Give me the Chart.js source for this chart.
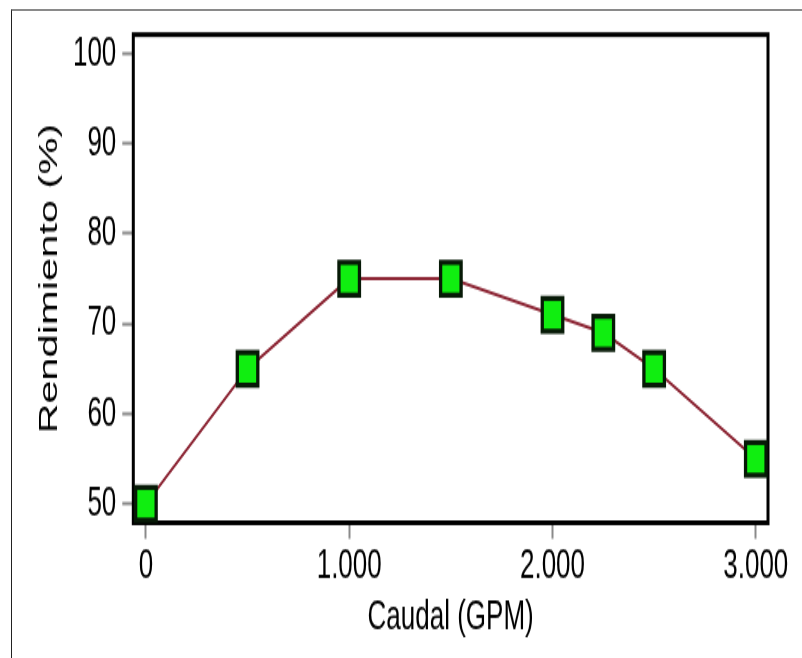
<!DOCTYPE html>
<html>
<head>
<meta charset="utf-8">
<script src="https://cdn.jsdelivr.net/npm/chart.js@4/dist/chart.umd.min.js"></script>
<style>
  html, body { margin: 0; padding: 0; background: #fff; overflow: hidden; }
  /* el original esta estirado en vertical: se dibuja a 411px y se estira a 658px */
  #wrap { position: absolute; left: 0; top: 0; width: 802px; height: 411px; transform: scaleY(1.601); transform-origin: 0 0; }
  #frame { position: absolute; left: 11px; top: 9px; width: 791px; height: 649px; border-top: 2px solid #8a8a8a; border-left: 1px solid #222; }
</style>
</head>
<body>
<div id="frame"></div>
<div id="wrap"><canvas id="rendChart"></canvas></div>
<script>
// datos
const caudal = [0, 500, 1000, 1500, 2000, 2250, 2500, 3000];
const rendimiento = [50, 65, 75, 75, 71, 69, 65, 55];
const xTicks = [0, 1000, 2000, 3000];
const xTickLabels = ['0', '1.000', '2.000', '3.000'];
const yTicks = [50, 60, 70, 80, 90, 100];

const fuente = { family: "'Liberation Sans', Arial, sans-serif", size: 26 };

// marco negro alrededor del area del grafico (debajo de los puntos)
const plotFrame = {
    id: 'plotFrame',
    beforeDatasetsDraw(chart) {
        const { ctx, chartArea: a } = chart;
        ctx.save();
        ctx.strokeStyle = '#000';
        ctx.lineWidth = 3;
        ctx.strokeRect(a.left, a.top, a.right - a.left, a.bottom - a.top);
        ctx.restore();
    }
};

new Chart(document.getElementById('rendChart'), {
    type: 'scatter',
    data: {
        datasets: [{
            data: caudal.map((x, i) => ({ x: x, y: rendimiento[i] })),
            showLine: true,
            borderColor: '#8b2332',
            borderWidth: 2,
            pointStyle: 'rect',
            pointRadius: 14.5,
            pointHoverRadius: 14.5,
            pointBackgroundColor: '#10ee10',
            pointBorderColor: '#071a07',
            pointBorderWidth: 3.3,
            clip: false
        }]
    },
    options: {
        responsive: true,
        maintainAspectRatio: false,
        animation: false,
        layout: { padding: { left: 0, right: 34, top: 17.5, bottom: 0 } },
        plugins: {
            legend: { display: false },
            tooltip: { enabled: false }
        },
        scales: {
            x: {
                type: 'linear',
                min: -62,
                max: 3060,
                afterBuildTicks: s => { s.ticks = xTicks.map(v => ({ value: v })); },
                afterFit: s => { s.height = 84.5; },
                ticks: {
                    color: '#000',
                    font: fuente,
                    padding: 2,
                    maxRotation: 0,
                    autoSkip: false,
                    callback: v => {
                        const i = xTicks.indexOf(v);
                        return i >= 0 ? xTickLabels[i] : '';
                    }
                },
                grid: { drawOnChartArea: false, drawTicks: true, tickLength: 10, tickColor: '#8a8a8a', tickWidth: 2 },
                border: { display: false },
                title: { display: true, text: 'Caudal (GPM)', color: '#000', font: fuente, padding: { top: 0, bottom: 10 } }
            },
            y: {
                type: 'linear',
                min: 47.9,
                max: 102.1,
                afterBuildTicks: s => { s.ticks = yTicks.map(v => ({ value: v })); },
                afterFit: s => { s.width = 133.3; },
                ticks: { color: '#000', font: fuente, padding: 6 },
                grid: { drawOnChartArea: false, drawTicks: true, tickLength: 11, tickColor: '#8a8a8a', tickWidth: 2 },
                border: { display: false },
                title: {
                    display: true,
                    text: 'Rendimiento (%)',
                    color: '#000',
                    font: { family: "'Liberation Sans', Arial, sans-serif", size: 26 },
                    padding: { top: 34, bottom: 0 }
                }
            }
        }
    },
    plugins: [plotFrame]
});
</script>
</body>
</html>
